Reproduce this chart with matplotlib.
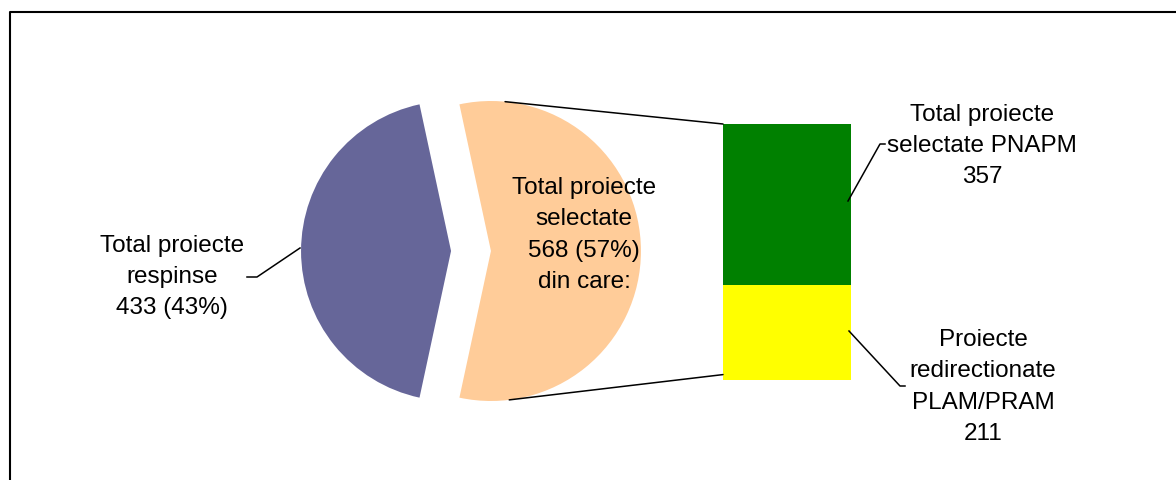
import matplotlib
matplotlib.use('Agg')
import matplotlib.pyplot as plt
from matplotlib.patches import ConnectionPatch
import numpy as np

plt.rcParams['font.family'] = ['Liberation Sans', 'DejaVu Sans']

# --- data ---
pie_labels = ['Total proiecte\nselectate\n568 (57%)\ndin care:',
              'Total proiecte\nrespinse\n433 (43%)']
pie_values = [568, 433]
pie_colors = ['#FFCC99', '#666699']

bar_labels = ['Proiecte\nredirectionate\nPLAM/PRAM\n211',
              'Total proiecte\nselectate PNAPM\n357']
bar_values = [211, 357]
bar_colors = ['#FFFF00', '#008000']

W, H = 1176, 481
fig = plt.figure(figsize=(W / 100, H / 100), dpi=100)


def px_axes(x0, y0, x1, y1):
    # place an axes by its pixel box, origin top-left
    return fig.add_axes([x0 / W, 1 - y1 / H, (x1 - x0) / W, (y1 - y0) / H])


# pie (bar-of-pie main part)
R, cx, cy, L = 150, 471, 252, 1.3
pax = px_axes(cx - L * R, cy - L * R, cx + L * R, cy + L * R)
start = -180 * pie_values[0] / sum(pie_values)
wedges, _ = pax.pie(pie_values, colors=pie_colors, startangle=start,
                    explode=[0.133, 0.133], radius=1, counterclock=True)
pax.set_xlim(-L, L)
pax.set_ylim(-L, L)
pax.set_aspect('equal')
pax.axis('off')

# stacked bar for the breakdown
bax = px_axes(723, 125, 851, 381)
bottom = 0
for v, c in zip(bar_values, bar_colors):
    bax.bar(0, v, bottom=bottom, width=1, color=c)
    bottom += v
bax.set_xlim(-0.5, 0.5)
bax.set_ylim(0, sum(bar_values))
bax.axis('off')

# connector lines pie -> bar
pc = np.array(wedges[0].center)
for ang, yb in [(84.6, sum(bar_values)), (-83, 12)]:
    p = pc + [np.cos(np.radians(ang)), np.sin(np.radians(ang))]
    fig.add_artist(ConnectionPatch(xyA=p, coordsA=pax.transData,
                                   xyB=(-0.5, yb), coordsB=bax.transData,
                                   color='black', lw=1.1))

# overlay: frame, labels, leader lines
ov = px_axes(0, 0, W, H)
ov.set_xlim(0, W)
ov.set_ylim(H, 0)
ov.axis('off')
ov.plot([9.5, 9.5, W], [H, 12.5, 12.5], color='black', lw=1.5)

txt = dict(ha='center', va='center', multialignment='center',
           fontsize=17.5, linespacing=1.55, color='black')
ov.text(172, 277, pie_labels[1], **txt)
ov.text(584, 235, pie_labels[0], **txt)
ov.text(982, 146, bar_labels[1], **txt)
ov.text(983, 387, bar_labels[0], **txt)

ov.plot([247, 257, 300], [278, 278, 249], color='black', lw=1.1)
ov.plot([848, 880, 885], [202, 145, 145], color='black', lw=1.1)
ov.plot([849, 900, 905], [332, 387, 387], color='black', lw=1.1)

fig.savefig('out.png', dpi=100)
